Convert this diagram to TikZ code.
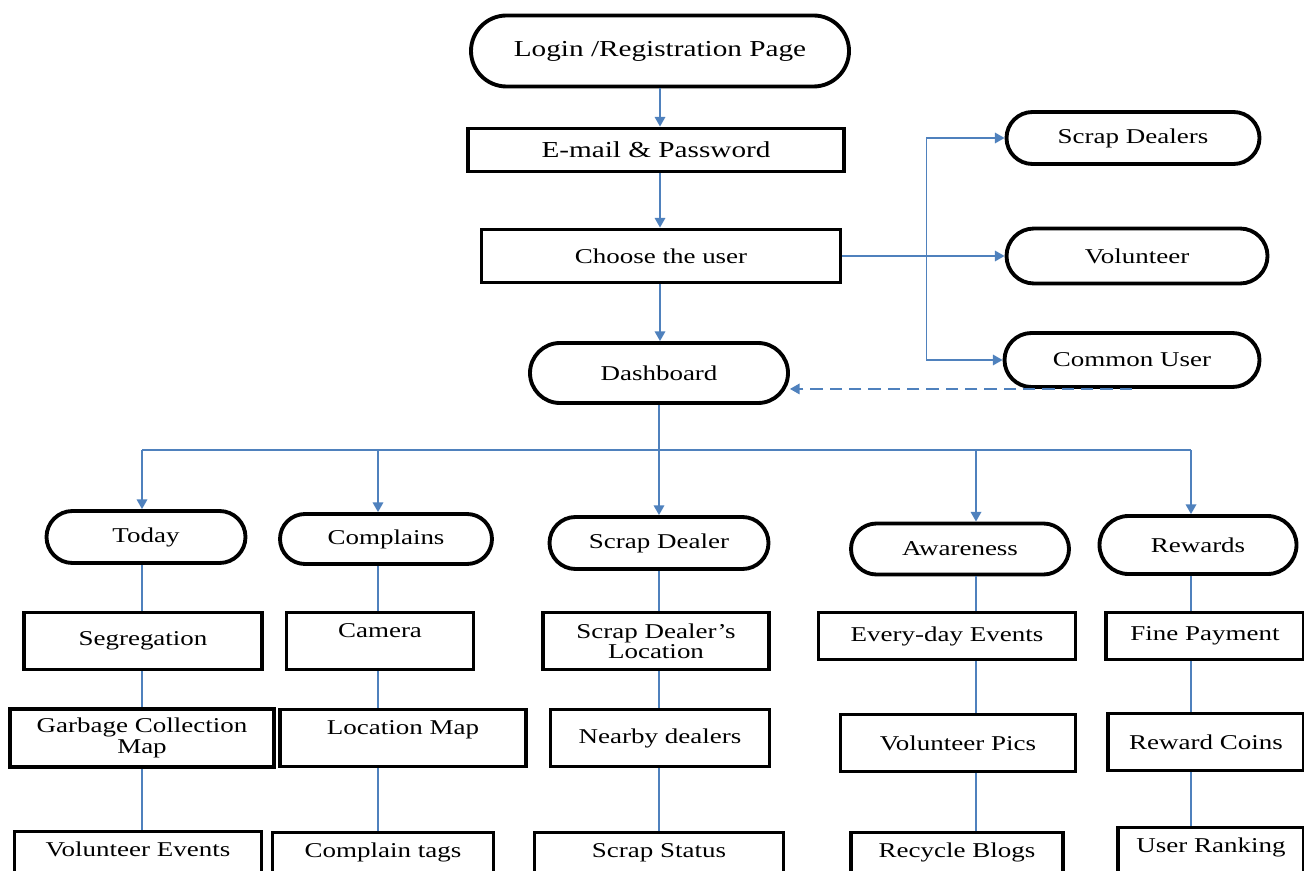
\documentclass[tikz,border=0pt]{standalone}
\usepackage{fontspec}
\setmainfont{Liberation Serif}[FakeStretch=1.28]
\usetikzlibrary{arrows.meta,positioning,shapes.misc}
\definecolor{ink}{HTML}{000000}
\definecolor{flow}{HTML}{4F81BD}

\begin{document}
\begin{tikzpicture}[x=0.02cm,y=-0.02cm,
  pill/.style 2 args={rounded rectangle,draw=ink,line width=2.2pt,minimum width=#1*0.02cm,minimum height=#2*0.02cm,inner sep=0pt,font=\fontsize{12}{11.5}\selectfont},
  rectbox/.style 2 args={rectangle,draw=ink,line width=2.2pt,minimum width=#1*0.02cm,minimum height=#2*0.02cm,inner sep=0pt,align=center,font=\fontsize{12}{11.5}\selectfont},
  big/.style={font=\fontsize{13}{14}\selectfont},
  centred/.style={},
  raised/.style={text depth=12pt},
  link/.style={flow,line width=0.9pt},
  arr/.style={link,-{Triangle[length=5.5pt,width=6pt]}}]
  \useasboundingbox (0,0) rectangle (1304,871);
  \clip (0,0) rectangle (1304,871);

  % login flow
  \node[pill={378}{71},big] (login) at (660,51) {Login /Registration Page};
  \node[rectbox={376}{43},big] (email) at (656,150) {E-mail \& Password};
  \node[rectbox={359}{53}] (choose) at (661,256) {Choose the user};
  \node[pill={258}{60}] (dash) at (659,373) {Dashboard};

  % user types
  \node[pill={253}{52}] (dealers) at (1133,138) {Scrap Dealers};
  \node[pill={261}{55}] (volunteer) at (1137,256) {Volunteer};
  \node[pill={255}{54}] (common) at (1132,360) {Common User};

  % dashboard sections
  \foreach \name/\x/\y/\w/\h/\txt in {today/146/537/199/52/Today, complains/386/539/212/50/Complains,
      scrapdealer/659/543/219/52/Scrap Dealer, awareness/960/549/218/51/Awareness, rewards/1198/545/197/58/Rewards}
    \node[pill={\w}{\h}] (\name) at (\x,\y) {\txt};

  % boxes below each section
  \foreach \name/\x/\y/\w/\h/\sty/\txt in {
      seg/143/641/238/57/centred/Segregation, camera/380/641/187/57/raised/Camera,
      scraploc/656/641/226/57/centred/{Scrap Dealer’s\\Location}, everyday/947/636/257/47/centred/Every-day Events,
      fine/1205/636/198/47/centred/Fine Payment,
      garbage/142/738/264/58/centred/{Garbage Collection\\Map}, locmap/403/738/246/57/raised/Location Map,
      nearby/660/738/219/57/centred/Nearby dealers, volpics/958/743/235/57/centred/Volunteer Pics,
      coins/1206/742/196/57/centred/Reward Coins,
      volevents/138/860/247/57/raised/Volunteer Events, tags/383/861/221/57/raised/Complain tags,
      status/659/861/249/57/raised/Scrap Status, blogs/957/861/212/57/raised/Recycle Blogs,
      ranking/1211/856/186/57/raised/User Ranking}
    \node[rectbox={\w}{\h},\sty] (\name) at (\x,\y) {\txt};

  % connectors
  \draw[arr] (login.south) -- (login.south |- email.north);
  \draw[arr] (login.south |- email.south) -- (login.south |- choose.north);
  \draw[arr] (login.south |- choose.south) -- (login.south |- dash.north);
  \draw[link] (choose.east) -- ++(84,0) coordinate (split);
  \draw[arr] (split) |- (dealers.west);
  \draw[arr] (split) -- (volunteer.west);
  \draw[arr] (split) |- (common.west);
  \draw[arr,dash pattern=on 7pt off 4pt] (common.south) -- (common.south -| dash.east);

  \draw[link] (dash.south) -- ++(0,48) coordinate (bus);
  \foreach \c/\x in {todaycol/142, complainscol/378, scrapcol/659, awarenesscol/976, rewardscol/1191}
    \coordinate (\c) at (\x,450);
  \draw[link] (todaycol) -- (rewardscol);
  \foreach \c/\n in {todaycol/today, complainscol/complains, scrapcol/scrapdealer, awarenesscol/awareness, rewardscol/rewards}
    \draw[arr] (\c) -- (\c |- \n.north);

  \foreach \c/\a/\b in {todaycol/today/seg, todaycol/seg/garbage, todaycol/garbage/volevents,
      complainscol/complains/camera, complainscol/camera/locmap, complainscol/locmap/tags,
      scrapcol/scrapdealer/scraploc, scrapcol/scraploc/nearby, scrapcol/nearby/status,
      awarenesscol/awareness/everyday, awarenesscol/everyday/volpics, awarenesscol/volpics/blogs,
      rewardscol/rewards/fine, rewardscol/fine/coins, rewardscol/coins/ranking}
    \draw[link] (\c |- \a.south) -- (\c |- \b.north);
\end{tikzpicture}
\end{document}
